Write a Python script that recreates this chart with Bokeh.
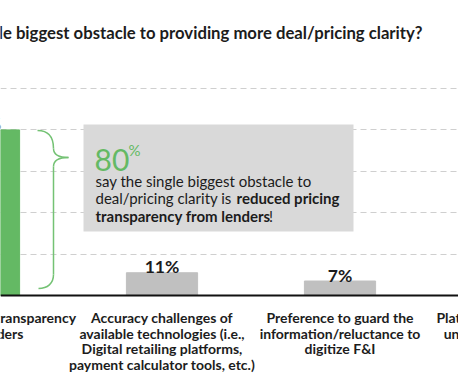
from bokeh.plotting import figure
from bokeh.models import ColumnDataSource, Range1d, FixedTicker, Span
from bokeh.core.properties import value
from bokeh.embed import file_html
from bokeh.resources import INLINE

# ---------------- data ----------------
title_text = "What is the single biggest obstacle to providing more deal/pricing clarity?"
categories = [0, 1, 2, 3]
shares = [80, 11, 7, 2]
value_labels = ["80%", "11%", "7%", "2%"]
bar_colors = ["#64b964", "#c0c0c0", "#c0c0c0", "#c0c0c0"]
category_lines = [
    ["Reduced pricing transparency", "from lenders"],
    ["Accuracy challenges of", "available technologies (i.e.,",
     "Digital retailing platforms,", "payment calculator tools, etc.)"],
    ["Preference to guard the", "information/reluctance to", "digitize F&I"],
    ["Platform providers' lack of", "understanding of lender", "incentive programs"],
]
grid_ticks = [20, 40, 60, 80, 100]
callout_big = "80"
callout_pct = "%"
callout_line1 = "say the single biggest obstacle to"
callout_line2a = "deal/pricing clarity is"
callout_line2b = "reduced pricing"
callout_line3a = "transparency from lenders"
callout_line3b = "!"

# ---------------- layout helpers ----------------
W, H = 458, 382
X_START, X_END = 0.0927, 2.6657
Y_START, Y_END = -42.03, 142.51


def X(rx):
    return X_START + rx / W * (X_END - X_START)


def Y(ry):
    return Y_END - ry / H * (Y_END - Y_START)


FONT = value("Lato")
DARK = "#1c1c1c"
GREEN = "#64b964"

p = figure(width=W, height=H, output_backend="svg", toolbar_location=None,
           x_range=Range1d(X_START, X_END), y_range=Range1d(Y_START, Y_END),
           min_border=0)
p.xaxis.visible = False
p.yaxis.visible = False
p.xgrid.visible = False
p.ygrid.ticker = FixedTicker(ticks=grid_ticks)
p.ygrid.grid_line_color = "#cfcfcf"
p.ygrid.grid_line_dash = "6 4"
p.ygrid.grid_line_width = 1
p.outline_line_color = None
p.background_fill_color = "white"
p.border_fill_color = "white"

# bars
src = ColumnDataSource(dict(x=categories, top=shares, label=value_labels, color=bar_colors))
p.vbar(x="x", top="top", width=0.4, bottom=0, color="color", source=src)
p.text(x="x", y="top", text="label", source=src, y_offset=-6,
       text_align="center", text_baseline="alphabetic", text_font=FONT,
       text_font_style="bold", text_font_size="17.5px", text_color=DARK)

# baseline
p.add_layout(Span(location=0, dimension="width", line_color="#111111", line_width=2))

# category labels
lx, ly, lt, lo = [], [], [], []
for c, lines in zip(categories, category_lines):
    for i, t in enumerate(lines):
        lx.append(c)
        ly.append(Y(317))
        lt.append(t)
        lo.append(i * 15.7)
lab_src = ColumnDataSource(dict(x=lx, y=ly, text=lt, off=lo))
p.text(x="x", y="y", text="text", y_offset="off", source=lab_src,
       text_align="center", text_baseline="alphabetic", text_font=FONT,
       text_font_style="bold", text_font_size="14px", text_color=DARK)

# title
p.text(x=[X(422)], y=[Y(32)], text=[title_text], text_align="right",
       text_baseline="alphabetic", text_font=FONT, text_font_style="bold",
       text_font_size="16.7px", text_color=DARK)

# callout box
p.quad(left=[X(83)], right=[X(353)], top=[Y(124)], bottom=[Y(231)],
       fill_color="#d9d9d9", line_color=None)
p.text(x=[X(94)], y=[Y(159)], text=[callout_big], text_font=FONT,
       text_font_size="30px", text_color=GREEN, text_baseline="alphabetic")
p.text(x=[X(128)], y=[Y(149)], text=[callout_pct], text_font=FONT,
       text_font_size="15px", text_color=GREEN, text_baseline="alphabetic")
p.text(x=[X(95)], y=[Y(180)], text=[callout_line1], text_font=FONT,
       text_font_size="15px", text_color=DARK, text_baseline="alphabetic")
p.text(x=[X(95)], y=[Y(197.5)], text=[callout_line2a], text_font=FONT,
       text_font_size="15px", text_color=DARK, text_baseline="alphabetic")
p.text(x=[X(236)], y=[Y(197.5)], text=[callout_line2b], text_font=FONT,
       text_font_style="bold", text_font_size="15px", text_color=DARK,
       text_baseline="alphabetic")
p.text(x=[X(95)], y=[Y(215)], text=[callout_line3a], text_font=FONT,
       text_font_style="bold", text_font_size="15px", text_color=DARK,
       text_baseline="alphabetic")
p.text(x=[X(268.5)], y=[Y(215)], text=[callout_line3b], text_font=FONT,
       text_font_size="15px", text_color=DARK, text_baseline="alphabetic")

# curly brace
segs = [
    ((37, 130), (47, 130), (53, 136), (53, 148)),
    ((53, 148), (53, 154), (59, 157), (68, 157)),
    ((68, 157), (59, 157), (53, 160), (53, 166)),
    ((53, 166), (53, 200), (53, 240), (53, 274)),
    ((53, 274), (53, 283), (47, 288), (38, 288)),
]
p.bezier(x0=[X(s[0][0]) for s in segs], y0=[Y(s[0][1]) for s in segs],
         cx0=[X(s[1][0]) for s in segs], cy0=[Y(s[1][1]) for s in segs],
         cx1=[X(s[2][0]) for s in segs], cy1=[Y(s[2][1]) for s in segs],
         x1=[X(s[3][0]) for s in segs], y1=[Y(s[3][1]) for s in segs],
         line_color="#74c274", line_width=1.5)

open("out.html", "w").write(file_html(p, INLINE))
